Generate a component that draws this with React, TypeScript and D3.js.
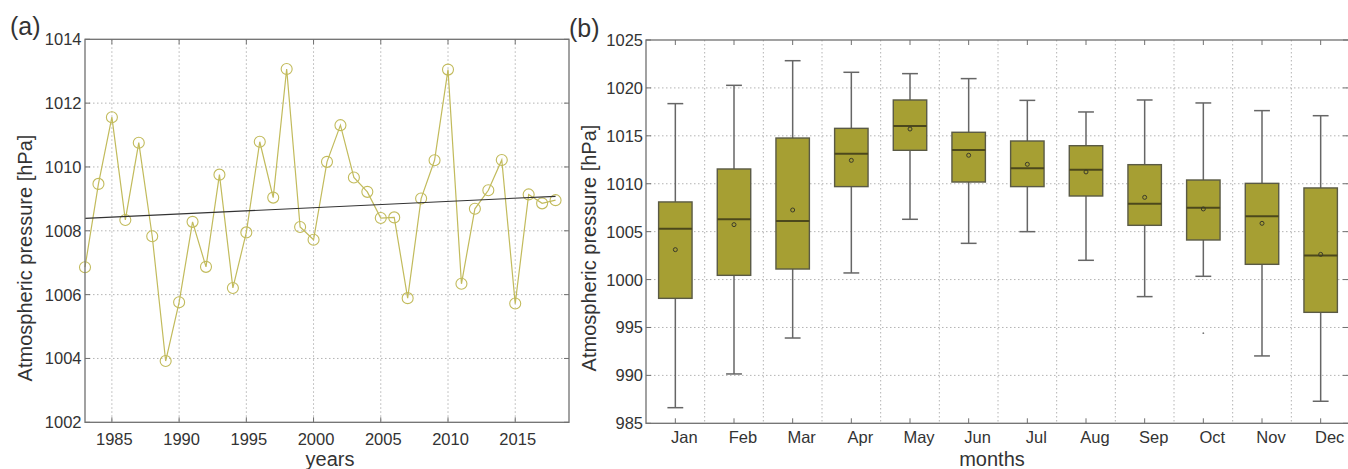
import { useEffect, useRef } from "react";
import * as d3 from "d3";

// (a) annual mean pressure
const years = [
  1983, 1984, 1985, 1986, 1987, 1988, 1989, 1990, 1991, 1992, 1993, 1994,
  1995, 1996, 1997, 1998, 1999, 2000, 2001, 2002, 2003, 2004, 2005, 2006,
  2007, 2008, 2009, 2010, 2011, 2012, 2013, 2014, 2015, 2016, 2017, 2018,
];
const pressure = [
  1006.86, 1009.47, 1011.56, 1008.34, 1010.76, 1007.83, 1003.92, 1005.76, 1008.28, 1006.87, 1009.76, 1006.21,
  1007.95, 1010.79, 1009.04, 1013.07, 1008.12, 1007.72, 1010.16, 1011.31, 1009.67, 1009.22, 1008.4, 1008.42,
  1005.89, 1009.01, 1010.21, 1013.05, 1006.34, 1008.69, 1009.27, 1010.22, 1005.72, 1009.14, 1008.86, 1008.96,
];
const trendYears = [1983, 2018];
const trendValues = [1008.39, 1009.08];
const yearTicks = [1985, 1990, 1995, 2000, 2005, 2010, 2015];
const leftYTicks = [1002, 1004, 1006, 1008, 1010, 1012, 1014];

// (b) monthly box plots
const months = ["Jan", "Feb", "Mar", "Apr", "May", "Jun", "Jul", "Aug", "Sep", "Oct", "Nov", "Dec"];
const whiskerLow = [986.63, 990.15, 993.9, 1000.69, 1006.29, 1003.78, 1005.0, 1002.01, 998.22, 1000.34, 992.03, 987.3];
const q1 = [998.04, 1000.44, 1001.1, 1009.7, 1013.49, 1010.18, 1009.7, 1008.72, 1005.66, 1004.13, 1001.59, 996.58];
const median = [1005.31, 1006.29, 1006.11, 1013.14, 1016.03, 1013.52, 1011.61, 1011.47, 1007.92, 1007.5, 1006.6, 1002.5];
const q3 = [1008.1, 1011.54, 1014.77, 1015.78, 1018.74, 1015.37, 1014.46, 1013.97, 1011.99, 1010.39, 1010.04, 1009.56];
const whiskerHigh = [1018.36, 1020.27, 1022.84, 1021.63, 1021.49, 1020.97, 1018.7, 1017.49, 1018.74, 1018.43, 1017.63, 1017.1];
const monthMean = [1003.12, 1005.73, 1007.26, 1012.44, 1015.71, 1012.97, 1012.03, 1011.23, 1008.58, 1007.37, 1005.87, 1002.63];
const outlierMonths = ["Oct"];
const outlierValues = [994.4];
const rightYTicks = [985, 990, 995, 1000, 1005, 1010, 1015, 1020, 1025];

const FONT = "'Liberation Sans', Arial, sans-serif";
const TXT = "#333";
const GRID = "#b4b4b4";
const FRAME = "#707070";

export default function App() {
  const ref = useRef<SVGSVGElement>(null);

  useEffect(() => {
    if (!ref.current) return;
    const svg = d3.select(ref.current);
    svg.selectAll("*").remove();

    const text = (x: number, y: number, s: string, size: number, anchor = "middle") =>
      svg.append("text")
        .attr("x", x).attr("y", y)
        .attr("font-family", FONT).attr("font-size", size)
        .attr("fill", TXT).attr("text-anchor", anchor)
        .text(s);

    // ---------- panel (a) ----------
    const L = { l: 85, r: 569, t: 39.3, b: 422.3 };
    const x = d3.scaleLinear().domain([1983, 2019]).range([L.l, L.r]);
    const y = d3.scaleLinear().domain([1002, 1014]).range([L.b, L.t]);

    const ga = svg.append("g");
    ga.selectAll("line.vg").data(yearTicks).join("line")
      .attr("x1", (d) => x(d)).attr("x2", (d) => x(d))
      .attr("y1", L.t).attr("y2", L.b)
      .attr("stroke", GRID).attr("stroke-dasharray", "1.5 2.5");
    ga.selectAll("line.hg").data(leftYTicks.slice(1, -1)).join("line")
      .attr("x1", L.l).attr("x2", L.r)
      .attr("y1", (d) => y(d)).attr("y2", (d) => y(d))
      .attr("stroke", GRID).attr("stroke-dasharray", "1.5 2.5");

    // ticks
    yearTicks.forEach((t) => {
      ga.append("line").attr("x1", x(t)).attr("x2", x(t)).attr("y1", L.b).attr("y2", L.b - 5).attr("stroke", FRAME);
      ga.append("line").attr("x1", x(t)).attr("x2", x(t)).attr("y1", L.t).attr("y2", L.t + 5).attr("stroke", FRAME);
      text(x(t) + 2.5, 445, String(t), 16.5);
    });
    leftYTicks.forEach((t) => {
      ga.append("line").attr("x1", L.l).attr("x2", L.l + 5).attr("y1", y(t)).attr("y2", y(t)).attr("stroke", FRAME);
      ga.append("line").attr("x1", L.r).attr("x2", L.r - 5).attr("y1", y(t)).attr("y2", y(t)).attr("stroke", FRAME);
      text(L.l - 3.5, y(t), String(t), 16.5, "end").attr("dy", "0.36em");
    });

    // series
    const pts = years.map((yr, i) => ({ yr, v: pressure[i] }));
    const line = d3.line<{ yr: number; v: number }>().x((d) => x(d.yr)).y((d) => y(d.v));
    ga.append("path").datum(pts)
      .attr("fill", "none").attr("stroke", "#c2bb5c").attr("stroke-width", 1.2)
      .attr("d", line as any);
    ga.selectAll("circle.pt").data(pts).join("circle")
      .attr("cx", (d) => x(d.yr)).attr("cy", (d) => y(d.v)).attr("r", 5.5)
      .attr("fill", "none").attr("stroke", "#c2bb5c").attr("stroke-width", 1.1);

    // trend
    ga.append("line")
      .attr("x1", x(trendYears[0])).attr("x2", x(trendYears[1]))
      .attr("y1", y(trendValues[0])).attr("y2", y(trendValues[1]))
      .attr("stroke", "#333").attr("stroke-width", 1.1);

    ga.append("rect").attr("x", L.l).attr("y", L.t).attr("width", L.r - L.l).attr("height", L.b - L.t)
      .attr("fill", "none").attr("stroke", FRAME).attr("stroke-width", 1.3);

    text(31.5, 0, "Atmospheric pressure [hPa]", 20).attr("x", 0).attr("transform", "translate(31.5,258) rotate(-90)");
    text(330, 466, "years", 20);
    text(10, 35, "(a)", 25, "start");

    // ---------- panel (b) ----------
    const R = { l: 646, r: 1350, t: 40, b: 423.3 };
    const xb = d3.scaleBand<string>().domain(months).range([R.l, R.r]);
    const bw = xb.bandwidth();
    const cx = (m: string) => (xb(m) as number) + bw / 2;
    const y2 = d3.scaleLinear().domain([985, 1025]).range([R.b, R.t]);

    const gb = svg.append("g");
    gb.selectAll("line.vg").data(months.slice(1)).join("line")
      .attr("x1", (d) => xb(d) as number).attr("x2", (d) => xb(d) as number)
      .attr("y1", R.t).attr("y2", R.b)
      .attr("stroke", GRID).attr("stroke-dasharray", "1.5 2.5");
    gb.selectAll("line.hg").data(rightYTicks.slice(1, -1)).join("line")
      .attr("x1", R.l).attr("x2", R.r)
      .attr("y1", (d) => y2(d)).attr("y2", (d) => y2(d))
      .attr("stroke", GRID).attr("stroke-dasharray", "1.5 2.5");

    months.forEach((m) => {
      gb.append("line").attr("x1", cx(m)).attr("x2", cx(m)).attr("y1", R.b).attr("y2", R.b - 5).attr("stroke", FRAME);
      gb.append("line").attr("x1", cx(m)).attr("x2", cx(m)).attr("y1", R.t).attr("y2", R.t + 5).attr("stroke", FRAME);
      text(cx(m) + 9, 443, m, 16.5);
    });
    rightYTicks.forEach((t) => {
      gb.append("line").attr("x1", R.l).attr("x2", R.l + 5).attr("y1", y2(t)).attr("y2", y2(t)).attr("stroke", FRAME);
      gb.append("line").attr("x1", R.r - 2).attr("x2", R.r - 7).attr("y1", y2(t)).attr("y2", y2(t)).attr("stroke", FRAME);
      text(R.l - 3, y2(t), String(t), 16.5, "end").attr("dy", "0.36em");
    });

    // boxes
    const boxW = bw * 0.57;
    const capW = bw * 0.27;
    months.forEach((m, i) => {
      const c = cx(m);
      const wk = "#666";
      gb.append("line").attr("x1", c).attr("x2", c).attr("y1", y2(whiskerLow[i])).attr("y2", y2(q1[i]))
        .attr("stroke", wk).attr("stroke-width", 1.5);
      gb.append("line").attr("x1", c).attr("x2", c).attr("y1", y2(q3[i])).attr("y2", y2(whiskerHigh[i]))
        .attr("stroke", wk).attr("stroke-width", 1.5);
      [whiskerLow[i], whiskerHigh[i]].forEach((v) => {
        gb.append("line").attr("x1", c - capW / 2).attr("x2", c + capW / 2).attr("y1", y2(v)).attr("y2", y2(v))
          .attr("stroke", wk).attr("stroke-width", 1.5);
      });
      gb.append("rect")
        .attr("x", c - boxW / 2).attr("y", y2(q3[i]))
        .attr("width", boxW).attr("height", y2(q1[i]) - y2(q3[i]))
        .attr("fill", "#a69f33").attr("stroke", "#5a5a45").attr("stroke-width", 1.4);
      gb.append("line").attr("x1", c - boxW / 2).attr("x2", c + boxW / 2)
        .attr("y1", y2(median[i])).attr("y2", y2(median[i]))
        .attr("stroke", "#4c481c").attr("stroke-width", 2);
      gb.append("circle").attr("cx", c).attr("cy", y2(monthMean[i])).attr("r", 2)
        .attr("fill", "none").attr("stroke", "#3a3a2a").attr("stroke-width", 1);
    });
    outlierMonths.forEach((m, i) => {
      gb.append("circle").attr("cx", cx(m)).attr("cy", y2(outlierValues[i])).attr("r", 0.9).attr("fill", "#777");
    });

    gb.append("rect").attr("x", R.l).attr("y", R.t).attr("width", R.r - R.l).attr("height", R.b - R.t)
      .attr("fill", "none").attr("stroke", FRAME).attr("stroke-width", 1.3);

    text(0, 0, "Atmospheric pressure [hPa]", 20).attr("transform", "translate(596,248) rotate(-90)");
    text(992, 466, "months", 20);
    text(569, 37, "(b)", 25, "start");
  }, []);

  return (
    <svg
      ref={ref}
      width={1348}
      height={469}
      style={{ position: "fixed", left: 0, top: 0, background: "#fff" }}
    />
  );
}
